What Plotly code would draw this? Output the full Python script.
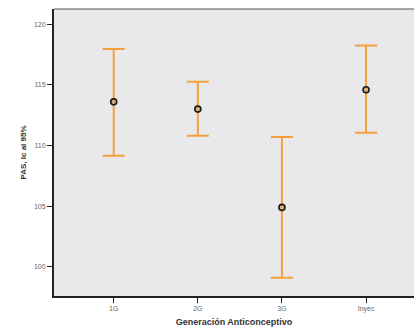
import plotly.graph_objects as go

categories = ["1G", "2G", "3G", "Inyec"]
means = [113.6, 113.0, 104.9, 114.6]
upper = [117.95, 115.25, 110.7, 118.25]
lower = [109.15, 110.8, 99.1, 111.05]

err_plus = [u - m for u, m in zip(upper, means)]
err_minus = [m - l for m, l in zip(means, lower)]

fig = go.Figure()
fig.add_trace(go.Scatter(
    x=list(range(len(categories))), y=means, mode="markers",
    marker=dict(symbol="circle", size=6, color="#d8b27a",
                line=dict(color="#1a1a1a", width=1.6)),
    error_y=dict(type="data", symmetric=False, array=err_plus, arrayminus=err_minus,
                 color="#f5a03c", thickness=2, width=11),
    showlegend=False,
))

fig.update_layout(
    width=416, height=333,
    margin=dict(l=54, r=2, t=9, b=37),
    paper_bgcolor="white", plot_bgcolor="#e9e9ec",
    font=dict(family="Liberation Sans, Arial", color="#444"),
    xaxis=dict(
        range=[-0.71, 3.57], tickvals=list(range(len(categories))), ticktext=categories,
        showgrid=False, zeroline=False, showline=True, linecolor="#222", linewidth=2,
        ticks="outside", ticklen=5, tickcolor="#222", tickwidth=1,
        tickfont=dict(size=7, color="#666"),
        title=dict(text="<b>Generación Anticonceptivo</b>", font=dict(size=9, color="#333"), standoff=6),
        mirror=False,
    ),
    yaxis=dict(
        range=[97.6, 121.25], tickvals=[100, 105, 110, 115, 120],
        showgrid=False, zeroline=False, showline=True, linecolor="#222", linewidth=2,
        ticks="outside", ticklen=5, tickcolor="#222", tickwidth=1,
        tickfont=dict(size=7, color="#666"),
        title=dict(text="<b>PAS, Ic al 95%</b>", font=dict(size=8, color="#333"), standoff=6),
    ),
    shapes=[dict(type="line", xref="paper", yref="paper", x0=0, x1=1, y0=1, y1=1,
                 line=dict(color="#555", width=1))],
)

fig.write_html("out.html")
